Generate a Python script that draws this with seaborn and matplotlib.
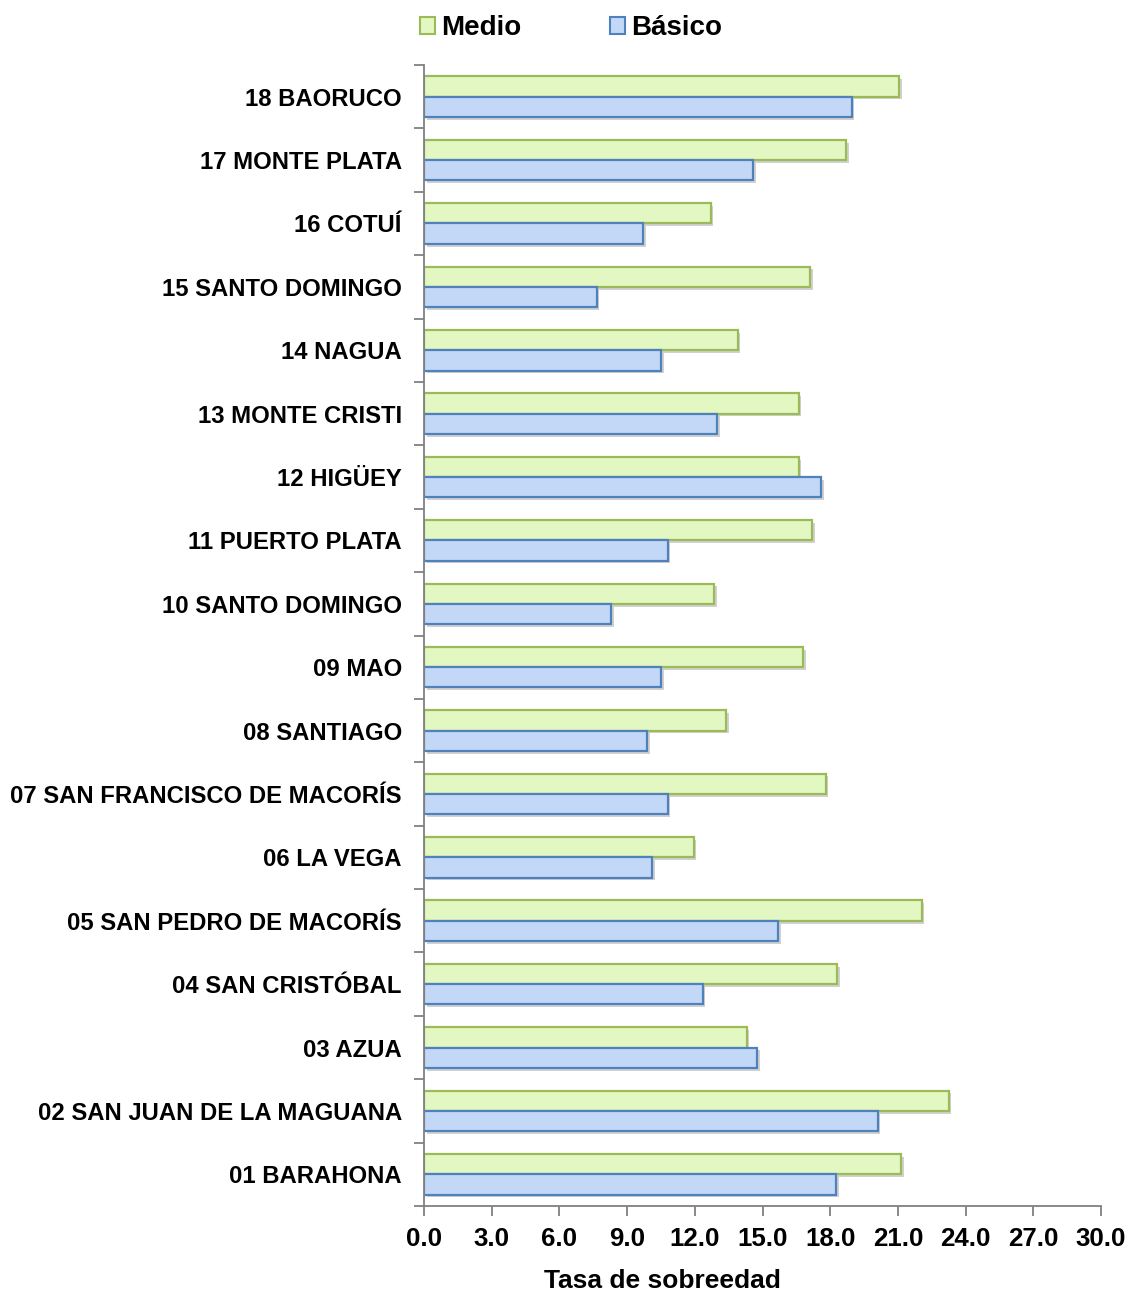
import numpy as np
import pandas as pd
import seaborn as sns
import matplotlib
matplotlib.use("Agg")
import matplotlib.pyplot as plt
import matplotlib.patheffects as pe
from matplotlib.patches import Patch

categories = ["18 BAORUCO", "17 MONTE PLATA", "16 COTUÍ", "15 SANTO DOMINGO", "14 NAGUA",
              "13 MONTE CRISTI", "12 HIGÜEY", "11 PUERTO PLATA", "10 SANTO DOMINGO", "09 MAO",
              "08 SANTIAGO", "07 SAN FRANCISCO DE MACORÍS", "06 LA VEGA", "05 SAN PEDRO DE MACORÍS",
              "04 SAN CRISTÓBAL", "03 AZUA", "02 SAN JUAN DE LA MAGUANA", "01 BARAHONA"]
medio = [21.05, 18.7, 12.7, 17.1, 13.9, 16.6, 16.6, 17.2, 12.85, 16.8,
         13.4, 17.8, 11.95, 22.05, 18.3, 14.3, 23.25, 21.15]
basico = [18.95, 14.6, 9.7, 7.65, 10.5, 13.0, 17.6, 10.8, 8.3, 10.5,
          9.9, 10.8, 10.1, 15.7, 12.35, 14.75, 20.1, 18.25]
series = ["Medio", "Básico"]
xticks = [0, 3, 6, 9, 12, 15, 18, 21, 24, 27, 30]

df = pd.DataFrame({
    "cat": categories * 2,
    "val": medio + basico,
    "serie": [series[0]] * len(categories) + [series[1]] * len(categories),
})

sns.set_theme(style="white")
plt.rcParams['font.family'] = ['Liberation Sans', 'DejaVu Sans']
plt.rcParams['font.weight'] = 'bold'
plt.rcParams['text.color'] = 'black'
plt.rcParams['xtick.color'] = 'black'
plt.rcParams['ytick.color'] = 'black'
plt.rcParams['axes.labelcolor'] = 'black'

fill = {"Medio": "#E3F7C2", "Básico": "#C3D8F7"}
edge = {"Medio": "#9BBB59", "Básico": "#4F81BD"}

fig = plt.figure(figsize=(11.28, 12.93), dpi=100)
ax = fig.add_axes([424/1128, 1 - 1206/1293, (1101-424)/1128, (1206-65)/1293])

sns.barplot(data=df, y="cat", x="val", hue="serie", order=categories, hue_order=series,
            palette=fill, orient="h", width=0.64, ax=ax, legend=False, saturation=1)

n = len(categories)
for i, bar in enumerate(ax.patches[:2*n]):
    s = series[i // n]
    bar.set_edgecolor(edge[s])
    bar.set_linewidth(1.6)
    bar.set_path_effects([pe.SimplePatchShadow(offset=(2, -2), shadow_rgbFace="#000000", alpha=0.18),
                          pe.Normal()])

ax.set_xlim(0, 30)
ax.set_ylim(n - 0.5, -0.5)
ax.set_xticks(xticks)
ax.set_xticklabels([f"{t:.1f}" for t in xticks], fontsize=18.6, fontweight="bold")
ax.set_yticks(range(n))
ax.set_yticklabels(categories, fontsize=17.2, fontweight="bold")
ax.set_yticks(np.arange(-0.5, n, 1), minor=True)
ax.tick_params(axis="y", which="major", length=0, pad=16)
ax.tick_params(axis="y", which="minor", length=7, width=1.3, color="#808080", direction="out", left=True)
ax.tick_params(axis="x", which="major", length=7, width=1.3, color="#808080", direction="out", bottom=True, pad=8,
               labelcolor="black")
ax.set_ylabel("")
ax.set_xlabel("")
fig.text(662/1128, 1 - 1281/1293, "Tasa de sobreedad", fontsize=19, fontweight="bold",
         ha="center", va="center", color="black")
for sp in ["top", "right"]:
    ax.spines[sp].set_visible(False)
for sp in ["left", "bottom"]:
    ax.spines[sp].set_color("#808080")
    ax.spines[sp].set_linewidth(1.3)

handles = [Patch(facecolor=fill[s], edgecolor=edge[s], linewidth=1.5) for s in series]
fig.legend(handles, series, loc="center", bbox_to_anchor=(571/1128, 1 - 28/1293), ncol=2,
           frameon=False, prop={"size": 20, "weight": "bold"}, handlelength=0.55, handleheight=0.55,
           handletextpad=0.2, columnspacing=3.2, labelcolor="black")

fig.savefig("out.png", dpi=100)
